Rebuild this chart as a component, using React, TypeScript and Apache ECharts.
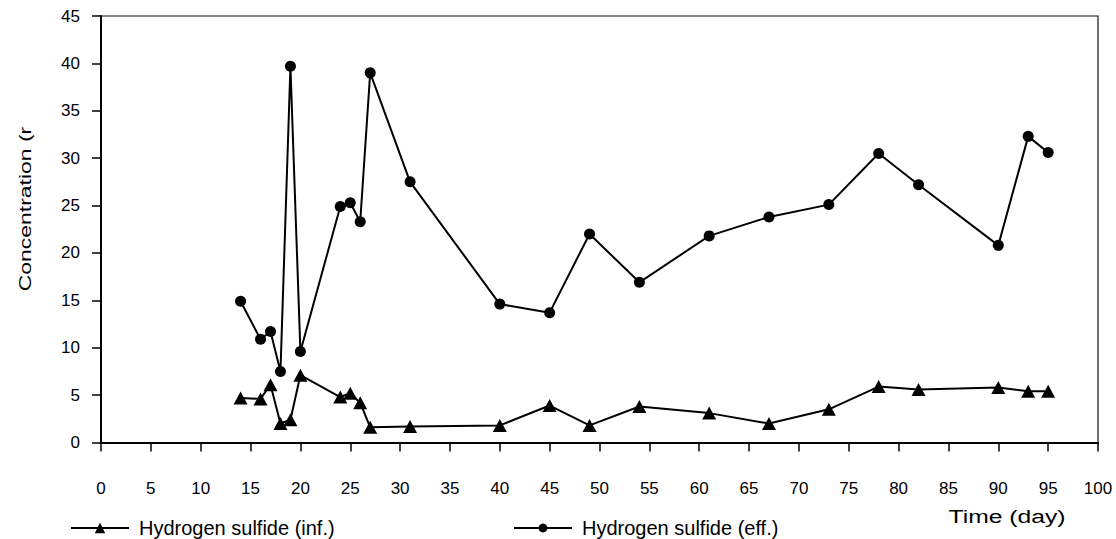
import React, { useEffect, useRef } from "react";
import * as echarts from "echarts";

// Sampling days and hydrogen sulfide concentrations
const days = [14, 16, 17, 18, 19, 20, 24, 25, 26, 27, 31, 40, 45, 49, 54, 61, 67, 73, 78, 82, 90, 93, 95];
const influent = [4.7, 4.6, 6.1, 2.0, 2.4, 7.1, 4.8, 5.2, 4.2, 1.6, 1.7, 1.8, 3.9, 1.8, 3.8, 3.1, 2.0, 3.5, 5.9, 5.6, 5.8, 5.4, 5.4];
const effluent = [14.9, 10.9, 11.7, 7.5, 39.7, 9.6, 24.9, 25.3, 23.3, 39.0, 27.5, 14.6, 13.7, 22.0, 16.9, 21.8, 23.8, 25.1, 30.5, 27.2, 20.8, 32.3, 30.6];

const seriesNames = ["Hydrogen sulfide (inf.)", "Hydrogen sulfide (eff.)"];
const xAxisTitle = "Time (day)";
const yAxisTitle = "Concentration (r";

const FONT = "'Liberation Sans', Arial, sans-serif";

export default function App() {
  const ref = useRef<HTMLDivElement>(null);

  useEffect(() => {
    if (!ref.current) return;
    const chart = echarts.init(ref.current, undefined, { renderer: "svg" });
    const pair = (vals: number[]) => days.map((d, i) => [d, vals[i]]);

    chart.setOption({
      animation: false,
      backgroundColor: "#fff",
      grid: {
        left: 101,
        top: 16,
        right: 18,
        bottom: 96.5,
        show: true,
        borderColor: "#111",
        borderWidth: 1.2,
      },
      xAxis: {
        type: "value",
        min: 0,
        max: 100,
        interval: 5,
        axisLine: { show: true, onZero: false, lineStyle: { color: "#000", width: 2 } },
        axisTick: { show: true, length: 9, lineStyle: { color: "#000", width: 1.5 } },
        axisLabel: { margin: 37, color: "#000", fontSize: 17, fontFamily: FONT },
        splitLine: { show: false },
      },
      yAxis: {
        type: "value",
        min: 0,
        max: 45,
        interval: 5,
        axisLine: { show: true, lineStyle: { color: "#000", width: 2 } },
        axisTick: { show: true, length: 9, lineStyle: { color: "#000", width: 1.5 } },
        axisLabel: { margin: 21, color: "#000", fontSize: 17, fontFamily: FONT },
        splitLine: { show: false },
      },
      legend: [
        {
          data: [seriesNames[0]],
          left: 70,
          top: 518,
          padding: 0,
          itemWidth: 58,
          itemHeight: 13,
          textStyle: { color: "#000", fontSize: 20, fontFamily: FONT, padding: [0, 0, 0, 5] },
        },
        {
          data: [seriesNames[1]],
          left: 513,
          top: 518,
          padding: 0,
          itemWidth: 58,
          itemHeight: 11,
          textStyle: { color: "#000", fontSize: 20, fontFamily: FONT, padding: [0, 0, 0, 5] },
        },
      ],
      graphic: [
        {
          type: "text",
          x: 1007,
          y: 517,
          scaleX: 1.3,
          style: {
            text: xAxisTitle,
            font: `19px ${FONT}`,
            fill: "#000",
            align: "center",
            verticalAlign: "middle",
          },
        },
        {
          type: "text",
          x: 25,
          y: 209,
          rotation: Math.PI / 2,
          scaleX: 1.35,
          style: {
            text: yAxisTitle,
            font: `17px ${FONT}`,
            fill: "#000",
            align: "center",
            verticalAlign: "middle",
          },
        },
      ],
      series: [
        {
          name: seriesNames[0],
          type: "line",
          data: pair(influent),
          symbol: "triangle",
          symbolSize: [14, 13],
          itemStyle: { color: "#000" },
          lineStyle: { color: "#000", width: 2 },
        },
        {
          name: seriesNames[1],
          type: "line",
          data: pair(effluent),
          symbol: "circle",
          symbolSize: 11,
          itemStyle: { color: "#000" },
          lineStyle: { color: "#000", width: 2 },
        },
      ],
    });

    return () => chart.dispose();
  }, []);

  return (
    <div
      ref={ref}
      style={{ position: "fixed", left: 0, top: 0, width: 1116, height: 539, background: "#fff" }}
    />
  );
}
